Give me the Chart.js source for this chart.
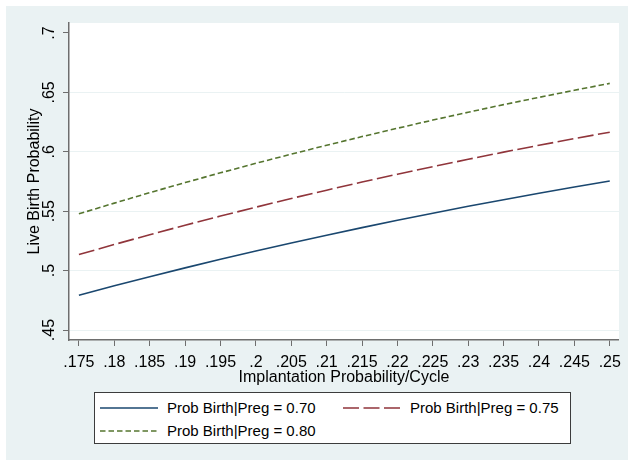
<!DOCTYPE html>
<html>
<head>
<meta charset="utf-8">
<script src="https://cdn.jsdelivr.net/npm/chart.js@4/dist/chart.umd.min.js"></script>
<style>
  html, body { margin: 0; padding: 0; background: #ffffff; }
  #wrap { position: relative; width: 628px; height: 460px; font-family: "Liberation Sans", Arial, sans-serif; }
  #c { position: absolute; left: 0; top: 0; }
  #legend { position: absolute; left: 94px; top: 392px; width: 475px; height: 50px;
            border: 1px solid #3c3c3c; background: #ffffff; }
  .item { position: absolute; height: 18px; width: 230px; font-size: 15px; line-height: 18px;
          color: #000000; white-space: nowrap; }
  .item svg { position: absolute; left: 0; top: 0; }
  .item span { position: absolute; left: 67px; top: 0; }
</style>
</head>
<body>
<div id="wrap">
  <canvas id="c" width="628" height="460"></canvas>
  <div id="legend"></div>
</div>
<script>
// Implantation probability per cycle (x) and live birth probability for each Prob Birth|Preg level
const implantation = [0.175, 0.18, 0.185, 0.19, 0.195, 0.2, 0.205, 0.21,
                      0.215, 0.22, 0.225, 0.23, 0.235, 0.24, 0.245, 0.25];
const birth070 = [0.4793, 0.4872, 0.4949, 0.5023, 0.5095, 0.5165, 0.5233, 0.5298,
                  0.5362, 0.5424, 0.5483, 0.5541, 0.5597, 0.5651, 0.5703, 0.5754];
const birth075 = [0.5135, 0.5220, 0.5302, 0.5382, 0.5459, 0.5534, 0.5607, 0.5677,
                  0.5745, 0.5811, 0.5875, 0.5937, 0.5997, 0.6055, 0.6111, 0.6165];
const birth080 = [0.5478, 0.5568, 0.5656, 0.5741, 0.5823, 0.5903, 0.5980, 0.6055,
                  0.6128, 0.6198, 0.6267, 0.6333, 0.6397, 0.6458, 0.6518, 0.6576];
const seriesLabels = ['Prob Birth|Preg = 0.70', 'Prob Birth|Preg = 0.75', 'Prob Birth|Preg = 0.80'];

const xTickValues = [0.175, 0.18, 0.185, 0.19, 0.195, 0.2, 0.205, 0.21,
                     0.215, 0.22, 0.225, 0.23, 0.235, 0.24, 0.245, 0.25];
const xTickLabels = ['.175', '.18', '.185', '.19', '.195', '.2', '.205', '.21',
                     '.215', '.22', '.225', '.23', '.235', '.24', '.245', '.25'];
const yTickValues = [0.45, 0.5, 0.55, 0.6, 0.65, 0.7];
const yTickLabels = ['.45', '.5', '.55', '.6', '.65', '.7'];

const xTitle = 'Implantation Probability/Cycle';
const yTitle = 'Live Birth Probability';

const FONT = '"Liberation Sans", Arial, sans-serif';
const PANEL = '#eaf2f3';
const AXIS = '#6e6e6e';

const styles = [
  { color: '#1a476f', dash: [] },
  { color: '#90353b', dash: [16, 4.5] },
  { color: '#55752f', dash: [5.5, 3] }
];
const seriesValues = [birth070, birth075, birth080];

const datasets = seriesValues.map((vals, i) => ({
  label: seriesLabels[i],
  data: implantation.map((x, j) => ({ x: x, y: vals[j] })),
  borderColor: styles[i].color,
  borderDash: styles[i].dash,
  borderWidth: 1.6,
  pointRadius: 0,
  fill: false,
  tension: 0
}));

// Graph region (light panel) and white plot region
const backgroundPlugin = {
  id: 'panels',
  beforeDraw(chart) {
    const { ctx, chartArea: a } = chart;
    ctx.save();
    ctx.fillStyle = '#ffffff';
    ctx.fillRect(0, 0, chart.width, chart.height);
    ctx.fillStyle = PANEL;
    ctx.fillRect(6, 6, chart.width - 6, chart.height - 6);
    ctx.fillStyle = '#ffffff';
    ctx.fillRect(a.left, a.top, a.right - a.left, a.bottom - a.top);
    ctx.restore();
  }
};

new Chart(document.getElementById('c'), {
  type: 'line',
  data: { datasets: datasets },
  plugins: [backgroundPlugin],
  options: {
    responsive: false,
    animation: false,
    devicePixelRatio: 1,
    layout: { padding: { left: 0, top: 23, right: 7, bottom: 70 } },
    plugins: { legend: { display: false }, tooltip: { enabled: false } },
    scales: {
      x: {
        type: 'linear',
        min: 0.1736,
        max: 0.2513,
        afterBuildTicks(scale) { scale.ticks = xTickValues.map(v => ({ value: v })); },
        afterFit(scale) { scale.height = 50; },
        ticks: {
          autoSkip: false, maxRotation: 0, minRotation: 0, padding: 7,
          color: '#000000', font: { family: FONT, size: 16 },
          callback: (v, i) => xTickLabels[i]
        },
        grid: { drawOnChartArea: false, drawTicks: true, tickLength: 6, tickColor: AXIS, tickWidth: 1 },
        border: { display: true, color: AXIS, width: 1.5 },
        title: { display: true, text: xTitle, color: '#000000',
                 font: { family: FONT, size: 16, lineHeight: 1 }, padding: { top: 0, bottom: 4 } }
      },
      y: {
        type: 'linear',
        min: 0.4416,
        max: 0.7084,
        afterBuildTicks(scale) { scale.ticks = yTickValues.map(v => ({ value: v })); },
        afterFit(scale) { scale.width = 69; },
        ticks: {
          autoSkip: false, minRotation: 90, maxRotation: 90, padding: 2, crossAlign: 'center',
          color: '#000000', font: { family: FONT, size: 16 },
          callback: (v, i) => yTickLabels[i]
        },
        grid: {
          drawTicks: true, tickLength: 6, tickColor: AXIS, tickWidth: 1, lineWidth: 1,
          color: ctx => (ctx.tick && ctx.tick.value >= 0.69 ? 'rgba(0,0,0,0)' : PANEL)
        },
        border: { display: true, color: AXIS, width: 1.5 },
        title: { display: true, text: yTitle, color: '#000000',
                 font: { family: FONT, size: 16, lineHeight: 1 }, padding: { top: 27, bottom: 0 } }
      }
    }
  }
});

// Legend: two columns, line sample followed by its label
const legend = document.getElementById('legend');
const slots = [{ left: 5, top: 6 }, { left: 248, top: 6 }, { left: 5, top: 29 }];
seriesLabels.forEach((label, i) => {
  const item = document.createElement('div');
  item.className = 'item';
  item.style.left = slots[i].left + 'px';
  item.style.top = slots[i].top + 'px';
  const dash = styles[i].dash.length ? styles[i].dash.join(' ') : 'none';
  item.innerHTML =
    '<svg width="58" height="18"><line x1="0" y1="9" x2="58" y2="9" stroke="' + styles[i].color +
    '" stroke-width="1.6" stroke-dasharray="' + dash + '"/></svg><span></span>';
  item.querySelector('span').textContent = label;
  legend.appendChild(item);
});
</script>
</body>
</html>
